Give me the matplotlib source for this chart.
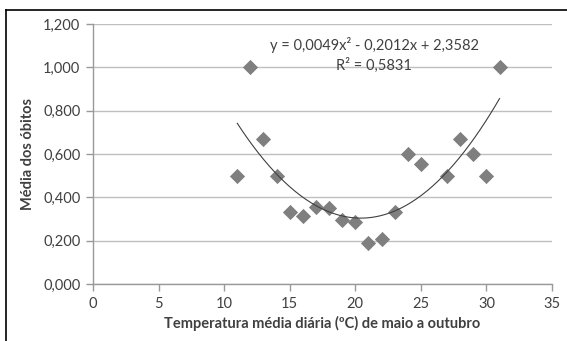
import numpy as np
import matplotlib
matplotlib.use("Agg")
import matplotlib.pyplot as plt
from matplotlib.lines import Line2D

temperature = [11, 12, 13, 14, 15, 16, 17, 18, 19, 20, 21, 22, 23, 24, 25, 27, 28, 29, 30, 31]
mean_deaths = [0.500, 1.000, 0.667, 0.500, 0.333, 0.313, 0.357, 0.353, 0.294, 0.286,
               0.190, 0.210, 0.333, 0.600, 0.556, 0.500, 0.667, 0.600, 0.500, 1.000]
x_ticks = [0, 5, 10, 15, 20, 25, 30, 35]
y_ticks = [0.0, 0.2, 0.4, 0.6, 0.8, 1.0, 1.2]
equation_text = "y = 0,0049x² - 0,2012x + 2,3582"
r2_text = "R² = 0,5831"

plt.rcParams['font.family'] = ['Lato', 'DejaVu Sans']

fig = plt.figure(figsize=(5.67, 3.41), dpi=100)
ax = fig.add_axes([93/567, 1-284/341, (552-93)/567, (284-24)/341])

grid_c = '#bfbfbf'
ax.set_xlim(0, 35)
ax.set_ylim(0, 1.2)
ax.set_xticks(x_ticks)
ax.set_yticks(y_ticks)
ax.set_xticklabels([str(v) for v in x_ticks])
ax.set_yticklabels([f"{v:.3f}".replace('.', ',') for v in y_ticks])
ax.yaxis.grid(True, color=grid_c, linewidth=1)
ax.set_axisbelow(True)
for s in ['top', 'right']:
    ax.spines[s].set_visible(False)
for s in ['left', 'bottom']:
    ax.spines[s].set_color('#999999')
    ax.spines[s].set_linewidth(1)
ax.tick_params(axis='both', colors='#999999', length=5, width=1, labelcolor='#404040', labelsize=10.5)
ax.tick_params(axis='x', pad=4)
ax.tick_params(axis='y', pad=4)

ax.scatter(temperature, mean_deaths, marker='D', s=60, color='#7f7f7f', zorder=3, linewidths=0)

coef = np.polyfit(temperature, mean_deaths, 2)
xs = np.linspace(min(temperature), max(temperature), 200)
ax.plot(xs, np.polyval(coef, xs), color='#404040', linewidth=0.8, zorder=4)

ax.text(21.5, 1.103, equation_text, ha='center', va='center', fontsize=10.5, color='#404040')
ax.text(21.4, 1.01, r2_text, ha='center', va='center', fontsize=10.5, color='#404040')

ax.set_xlabel('Temperatura média diária (ºC) de maio a outubro', fontsize=10.5,
              fontweight='bold', color='#404040', labelpad=4)
ax.set_ylabel('Média dos óbitos', fontsize=10.5, fontweight='bold', color='#404040', labelpad=6)

fig.add_artist(Line2D([6/567, 1], [1-10/341, 1-10/341], color='black', linewidth=1.2))
fig.add_artist(Line2D([6/567, 6/567], [0, 1-10/341], color='black', linewidth=1.2))

fig.savefig('out.png', dpi=100)
